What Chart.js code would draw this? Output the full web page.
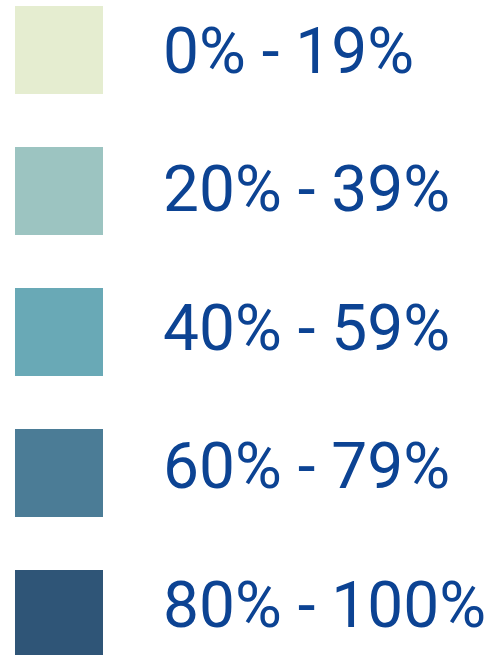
<!DOCTYPE html>
<html>
<head>
<meta charset="utf-8">
<script src="https://cdn.jsdelivr.net/npm/chart.js@4/dist/chart.umd.min.js"></script>
<style>
  html, body { margin: 0; padding: 0; background: #ffffff; }
  #wrap { position: relative; width: 497px; height: 655px; }
</style>
</head>
<body>
<div id="wrap"><canvas id="c"></canvas></div>
<script>
// Legend categories (bins) and their colours
const categories = ['0% - 19%', '20% - 39%', '40% - 59%', '60% - 79%', '80% - 100%'];
const binIndex = [0, 1, 2, 3, 4];
const binColors = ['#e5edd0', '#9cc4c1', '#69a9b6', '#4b7c96', '#2f5577'];

const textColor = '#0c4393';
const textFont = "400 64px Roboto, 'Liberation Sans', Arial, sans-serif";

// Draws the category labels next to the swatches, positioned by the chart scales
const labelPlugin = {
  id: 'binLabels',
  afterDatasetsDraw(chart) {
    const c = chart.ctx;
    const xs = chart.scales.x;
    const ys = chart.scales.y2;
    c.save();
    c.font = textFont;
    c.fillStyle = textColor;
    c.textAlign = 'left';
    c.textBaseline = 'middle';
    const tx = xs.getPixelForValue(0) + 104;
    categories.forEach((label, i) => {
      c.fillText(label, tx, ys.getPixelForValue(binIndex[i]));
    });
    c.restore();
  }
};

const ctx = document.getElementById('c');
new Chart(ctx, {
  type: 'scatter',
  data: {
    datasets: [{
      data: binIndex.map(i => ({ x: 0, y: i })),
      pointStyle: 'rect',
      pointRadius: 88 / Math.SQRT2,
      pointHoverRadius: 88 / Math.SQRT2,
      backgroundColor: binColors,
      borderWidth: 0,
      clip: false
    }]
  },
  plugins: [labelPlugin],
  options: {
    responsive: true,
    maintainAspectRatio: false,
    animation: false,
    events: [],
    layout: { padding: 0, autoPadding: false },
    plugins: {
      legend: { display: false },
      tooltip: { enabled: false }
    },
    scales: {
      x: {
        type: 'linear',
        display: false,
        min: -1,
        max: 7.424
      },
      y: {
        type: 'linear',
        display: false,
        reverse: true,
        min: -0.3546,
        max: 4.291
      },
      y2: {
        type: 'linear',
        display: false,
        reverse: true,
        min: -0.4118,
        max: 4.321
      }
    }
  }
});
</script>
</body>
</html>
